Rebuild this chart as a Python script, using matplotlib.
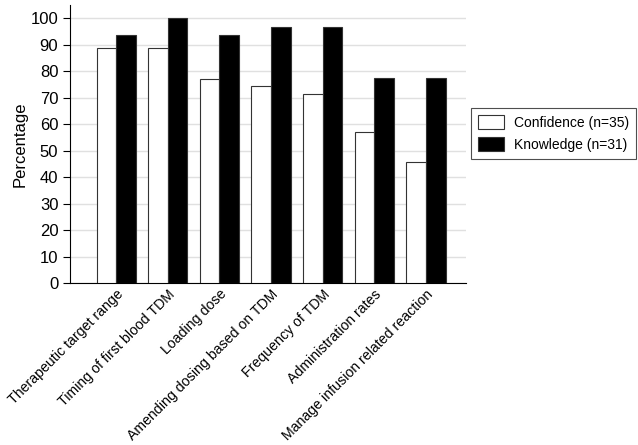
import matplotlib
matplotlib.use("Agg")
import matplotlib.pyplot as plt
import numpy as np

plt.rcParams['font.family'] = ['Liberation Sans', 'DejaVu Sans']

categories = ["Therapeutic target range", "Timing of first blood TDM", "Loading dose",
              "Amending dosing based on TDM", "Frequency of TDM", "Administration rates",
              "Manage infusion related reaction"]
confidence = [88.6, 88.6, 77.1, 74.3, 71.4, 57.1, 45.7]
knowledge = [93.5, 100.0, 93.5, 96.8, 96.8, 77.4, 77.4]
yticks = list(range(0, 101, 10))

fig = plt.figure(figsize=(6.38, 4.45), dpi=100)
ax = fig.add_axes([0.11, 0.364, 0.62, 0.625])
x = np.arange(len(categories))
w = 0.38
ax.bar(x - w/2, confidence, w, color='white', edgecolor='#333333', linewidth=0.8,
       label='Confidence (n=35)', zorder=3)
ax.bar(x + w/2, knowledge, w, color='black', edgecolor='#333333', linewidth=0.8,
       label='Knowledge (n=31)', zorder=3)
ax.set_xlim(-0.89, 6.77)
ax.set_ylim(0, 105)
ax.set_yticks(yticks)
ax.tick_params(axis='y', labelsize=12, length=5)
ax.yaxis.grid(True, color='#e0e0e0', linewidth=1, zorder=0)
ax.set_xticks(x)
ax.set_xticklabels(categories, rotation=45, ha='right', rotation_mode='anchor', fontsize=10.2)
ax.tick_params(axis='x', length=0, pad=3)
for s in ['top', 'right']:
    ax.spines[s].set_visible(False)
ax.set_ylabel('Percentage', fontsize=12, labelpad=2)
leg = fig.legend(loc='upper right', bbox_to_anchor=(636/638, 1 - 108/445), fontsize=10,
                 frameon=True, fancybox=False, edgecolor='#222222', handlelength=1.87,
                 handleheight=1.22, handletextpad=0.72, borderpad=0.5, labelspacing=0.5,
                 borderaxespad=0)
leg.get_frame().set_linewidth(0.8)
fig.savefig('out.png', dpi=100)
